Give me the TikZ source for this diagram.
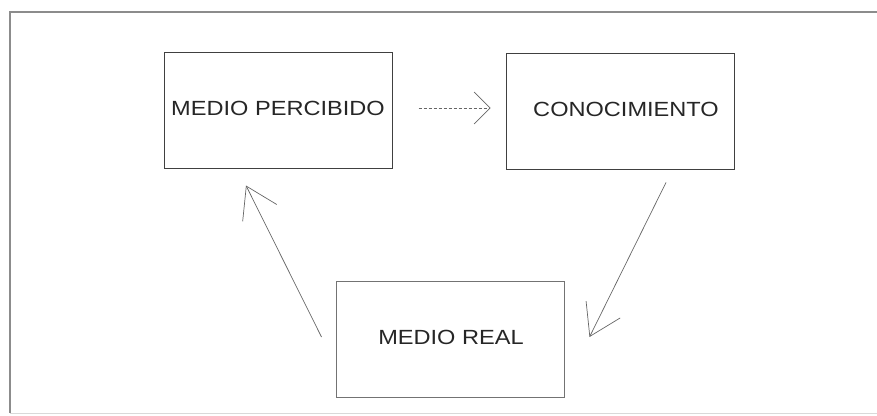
\documentclass[tikz,border=0pt]{standalone}
\usepackage{fontspec}
\setmainfont{Liberation Sans}
\usetikzlibrary{arrows.meta,calc}
\begin{document}
\begin{tikzpicture}[x=1pt,y=-1pt,
  box/.style={draw=black!75, line width=1pt, minimum width=228pt, minimum height=116pt, inner sep=0pt},
  lbl/.style={font=\fontsize{20.5}{24}\selectfont, text=black!85},
  conn/.style={draw=black!60, line width=0.7pt},
  frame/.style={draw=black!45, line width=1.4pt}]
\useasboundingbox (0,0) rectangle (877,415);
\draw[frame] (877,12) -- (10,12) -- (10,413);
\draw[draw=black!15, line width=1pt] (10,413) -- (877,413);
\node[box] (perc) at (278,110) {};
\node[lbl] (percT) at ($(perc.center)+(0,-2)$) {\scalebox{1.15}[1]{MEDIO PERCIBIDO}};
\node[box] (conoc) at (620,111) {};
\node[lbl] (conocT) at ($(conoc.center)+(6,-2)$) {\scalebox{1.15}[1]{CONOCIMIENTO}};
\node[box, draw=black!55] (real) at (450,339.5) {};
\node[lbl] (realT) at ($(real.center)+(1,-2)$) {\scalebox{1.15}[1]{MEDIO REAL}};
\coordinate (a1s) at ($(perc.east)+(26,-2)$);
\coordinate (a1e) at ($(conoc.west)+(-15,-3)$);
\coordinate (a2s) at ($(conoc.south)+(46,13)$);
\coordinate (a2e) at ($(real.east)+(25,-2.5)$);
\coordinate (a3s) at ($(real.west)+(-14,-2.5)$);
\coordinate (a3e) at ($(perc.south)+(-32,17)$);
\draw[conn, densely dashed, -{Straight Barb[length=16pt,width=32pt,line width=0.7pt]}] (a1s) -- (a1e);
\draw[conn, -{Straight Barb[length=30pt,width=38pt,line width=0.7pt]}] (a2s) -- (a2e);
\draw[conn, -{Straight Barb[length=30pt,width=38pt,line width=0.7pt]}] (a3s) -- (a3e);
\end{tikzpicture}
\end{document}
